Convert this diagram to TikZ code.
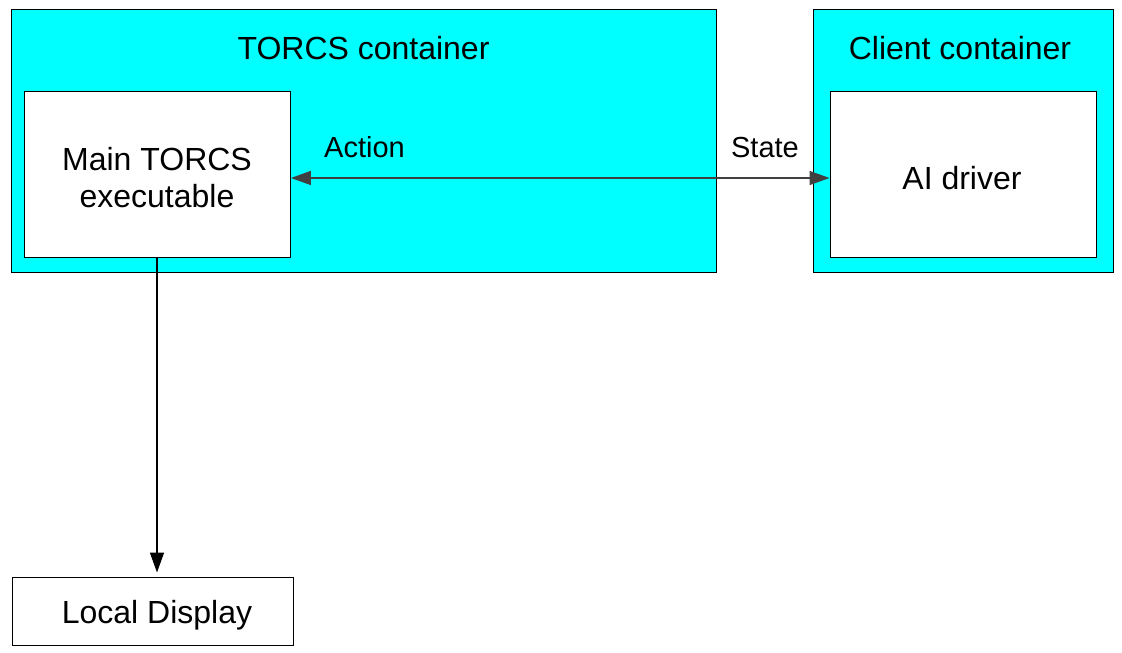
\documentclass[tikz,border=0pt]{standalone}
\usepackage{fontspec}
\setmainfont{Liberation Sans}
\usetikzlibrary{arrows.meta}
\definecolor{cyanfill}{RGB}{0,255,255}
\definecolor{arrowgray}{RGB}{64,64,64}
\begin{document}
\begin{tikzpicture}[x=1pt,y=-1pt,
  container/.style={draw=black,fill=cyanfill,line width=1.4pt,inner sep=0pt,anchor=north west},
  whitebox/.style={draw=black,fill=white,line width=1.4pt,inner sep=0pt,anchor=north west},
  bigtext/.style={font=\fontsize{32}{37}\selectfont,inner sep=0pt,align=center},
  lbltext/.style={font=\fontsize{29}{33}\selectfont,inner sep=0pt},
  conn/.style={line width=1.5pt},
  grayhead/.style={Triangle[length=20pt,width=14pt,fill=arrowgray]}
]
\useasboundingbox (0,0) rectangle (1122,653);
% containers
\node[container,minimum width=705pt,minimum height=263pt] (torcs) at (10.5,8.5) {};
\node[container,minimum width=300pt,minimum height=263pt] (client) at (812.5,8.5) {};
\node[bigtext,anchor=base] (torcstitle) at (363.5,59) {TORCS container};
\node[bigtext,anchor=base] (clienttitle) at (960,59) {Client container};
% inner boxes
\node[whitebox,minimum width=266pt,minimum height=166pt] (main) at (23.5,90.5) {};
\node[bigtext] (maintext) at (157,178) {Main TORCS\\executable};
\node[whitebox,minimum width=266pt,minimum height=166pt] (ai) at (829.5,90.5) {};
\node[bigtext,anchor=base] (aitext) at (962,189) {AI driver};
\node[whitebox,minimum width=281pt,minimum height=68pt] (local) at (11.5,576.5) {};
\node[bigtext,anchor=base] (localtext) at (157,623) {Local Display};
% labels
\node[lbltext,anchor=base] (action) at (364.5,157) {Action};
\node[lbltext,anchor=base] (state) at (765,157) {State};
% connectors
\draw[conn,draw=arrowgray,{Triangle[length=20pt,width=14pt,fill=arrowgray]}-{Triangle[length=20pt,width=14pt,fill=arrowgray]}]
  (main.east |- 0,178) -- (ai.west |- 0,178);
\draw[conn,-{Triangle[length=20pt,width=14pt]},shorten >=4pt] (main.south -| 157,0) -- (local.north -| 157,0);
\end{tikzpicture}
\end{document}
